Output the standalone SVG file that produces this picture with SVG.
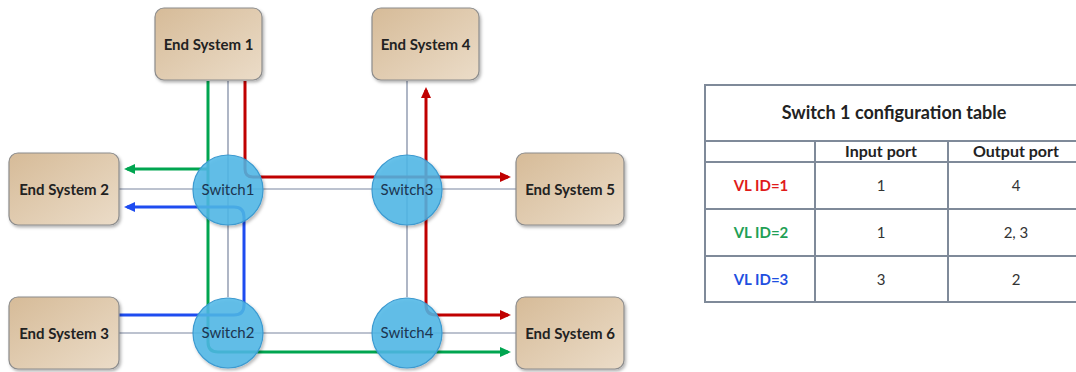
<svg xmlns="http://www.w3.org/2000/svg" width="1076" height="372" viewBox="0 0 1076 372">
<defs>
<linearGradient id="tan" x1="0" y1="0" x2="1" y2="1">
<stop offset="0" stop-color="#D6BB98"/>
<stop offset="1" stop-color="#EBDCC8"/>
</linearGradient>
<filter id="sh" x="-20%" y="-20%" width="140%" height="140%">
<feDropShadow dx="1.5" dy="2" stdDeviation="1.5" flood-color="#000" flood-opacity="0.3"/>
</filter>
<marker id="aR" markerUnits="userSpaceOnUse" markerWidth="11" markerHeight="10" refX="8" refY="5" orient="auto"><path d="M0,0 L11,5 L0,10 z" fill="#C00000"/></marker>
<marker id="aG" markerUnits="userSpaceOnUse" markerWidth="11" markerHeight="10" refX="8" refY="5" orient="auto"><path d="M0,0 L11,5 L0,10 z" fill="#00A550"/></marker>
<marker id="aB" markerUnits="userSpaceOnUse" markerWidth="11" markerHeight="10" refX="8" refY="5" orient="auto"><path d="M0,0 L11,5 L0,10 z" fill="#1E4CF0"/></marker>
</defs>
<style>
.es rect{fill:url(#tan);stroke:#8C8C8C;stroke-width:1.2;filter:url(#sh)}
.es text{font-family:Lato,"Open Sans",sans-serif;font-weight:bold;font-size:15px;fill:#222;text-anchor:middle}
.sw circle{fill:#4FB9E9;fill-opacity:0.85;stroke:#3C9AD0;stroke-width:1.2;filter:url(#sh)}
.sw text{font-family:Lato,"Open Sans",sans-serif;font-size:15px;fill:#1C3550;text-anchor:middle}
.link{stroke:#7A86A0;stroke-width:1.2;fill:none}
.r{stroke:#C00000;stroke-width:3;fill:none}
.g{stroke:#00A550;stroke-width:3;fill:none}
.b{stroke:#1E4CF0;stroke-width:3;fill:none}
.tb{stroke:#7F8A99;stroke-width:2;fill:none}
.tt{font-family:Lato,"Open Sans",sans-serif;font-size:15px;text-anchor:middle;fill:#333}
.th{font-weight:bold;fill:#222}
.t1{font-size:18px}
.t2{font-size:16px}
</style>
<g id="connectors">
<path class="link" d="M119,189 H516 M119,333 H516 M228,81 V297 M407,81 V297"/>
<path class="r" d="M245,81 V169 Q245,177 253,177 H508" marker-end="url(#aR)"/>
<path class="r" d="M426,177 V90" marker-end="url(#aR)"/>
<path class="r" d="M426,177 V305 Q426,315 436,315 H508" marker-end="url(#aR)"/>
<path class="g" d="M208,81 V342 Q208,352 218,352 H508" marker-end="url(#aG)"/>
<path class="g" d="M208,169 H127" marker-end="url(#aG)"/>
<path class="b" d="M119,315 H234 Q244,315 244,305 V217 Q244,207 234,207 H127" marker-end="url(#aB)"/>
</g>
<g id="es1" class="es"><rect x="155" y="8" width="107" height="72" rx="9"/><text x="208.5" y="50">End System 1</text></g>
<g id="es4" class="es"><rect x="372" y="8" width="107" height="72" rx="9"/><text x="425.5" y="50">End System 4</text></g>
<g id="es2" class="es"><rect x="9" y="153" width="110" height="72" rx="9"/><text x="64" y="195">End System 2</text></g>
<g id="es3" class="es"><rect x="9" y="297" width="110" height="72" rx="9"/><text x="64" y="339">End System 3</text></g>
<g id="es5" class="es"><rect x="516" y="153" width="108" height="72" rx="9"/><text x="570" y="195">End System 5</text></g>
<g id="es6" class="es"><rect x="516" y="297" width="108" height="72" rx="9"/><text x="570" y="339">End System 6</text></g>
<g id="sw1" class="sw"><circle cx="228" cy="190" r="35"/><text x="228" y="195">Switch1</text></g>
<g id="sw2" class="sw"><circle cx="228" cy="333" r="35"/><text x="228" y="338">Switch2</text></g>
<g id="sw3" class="sw"><circle cx="407" cy="190" r="35"/><text x="407" y="195">Switch3</text></g>
<g id="sw4" class="sw"><circle cx="407" cy="333" r="35"/><text x="407" y="338">Switch4</text></g>
<g id="table">
<rect class="tb" x="705" y="85" width="382" height="217" fill="#fff"/>
<path class="tb" d="M705,141 H1087 M705,162 H1087 M705,209 H1087 M705,256 H1087 M815,141 V302 M948,141 V302"/>
<text class="tt th t1" x="894" y="119">Switch 1 configuration table</text>
<text class="tt th t2" x="881" y="157">Input port</text>
<text class="tt th t2" x="1016" y="157">Output port</text>
<text class="tt th" x="761" y="191" style="fill:#E01B1B">VL ID=1</text>
<text class="tt th" x="761" y="238" style="fill:#1FA055">VL ID=2</text>
<text class="tt th" x="761" y="285" style="fill:#1F4FE0">VL ID=3</text>
<text class="tt" x="881" y="191">1</text>
<text class="tt" x="1016" y="191">4</text>
<text class="tt" x="881" y="238">1</text>
<text class="tt" x="1016" y="238">2, 3</text>
<text class="tt" x="881" y="285">3</text>
<text class="tt" x="1016" y="285">2</text>
</g>
</svg>
